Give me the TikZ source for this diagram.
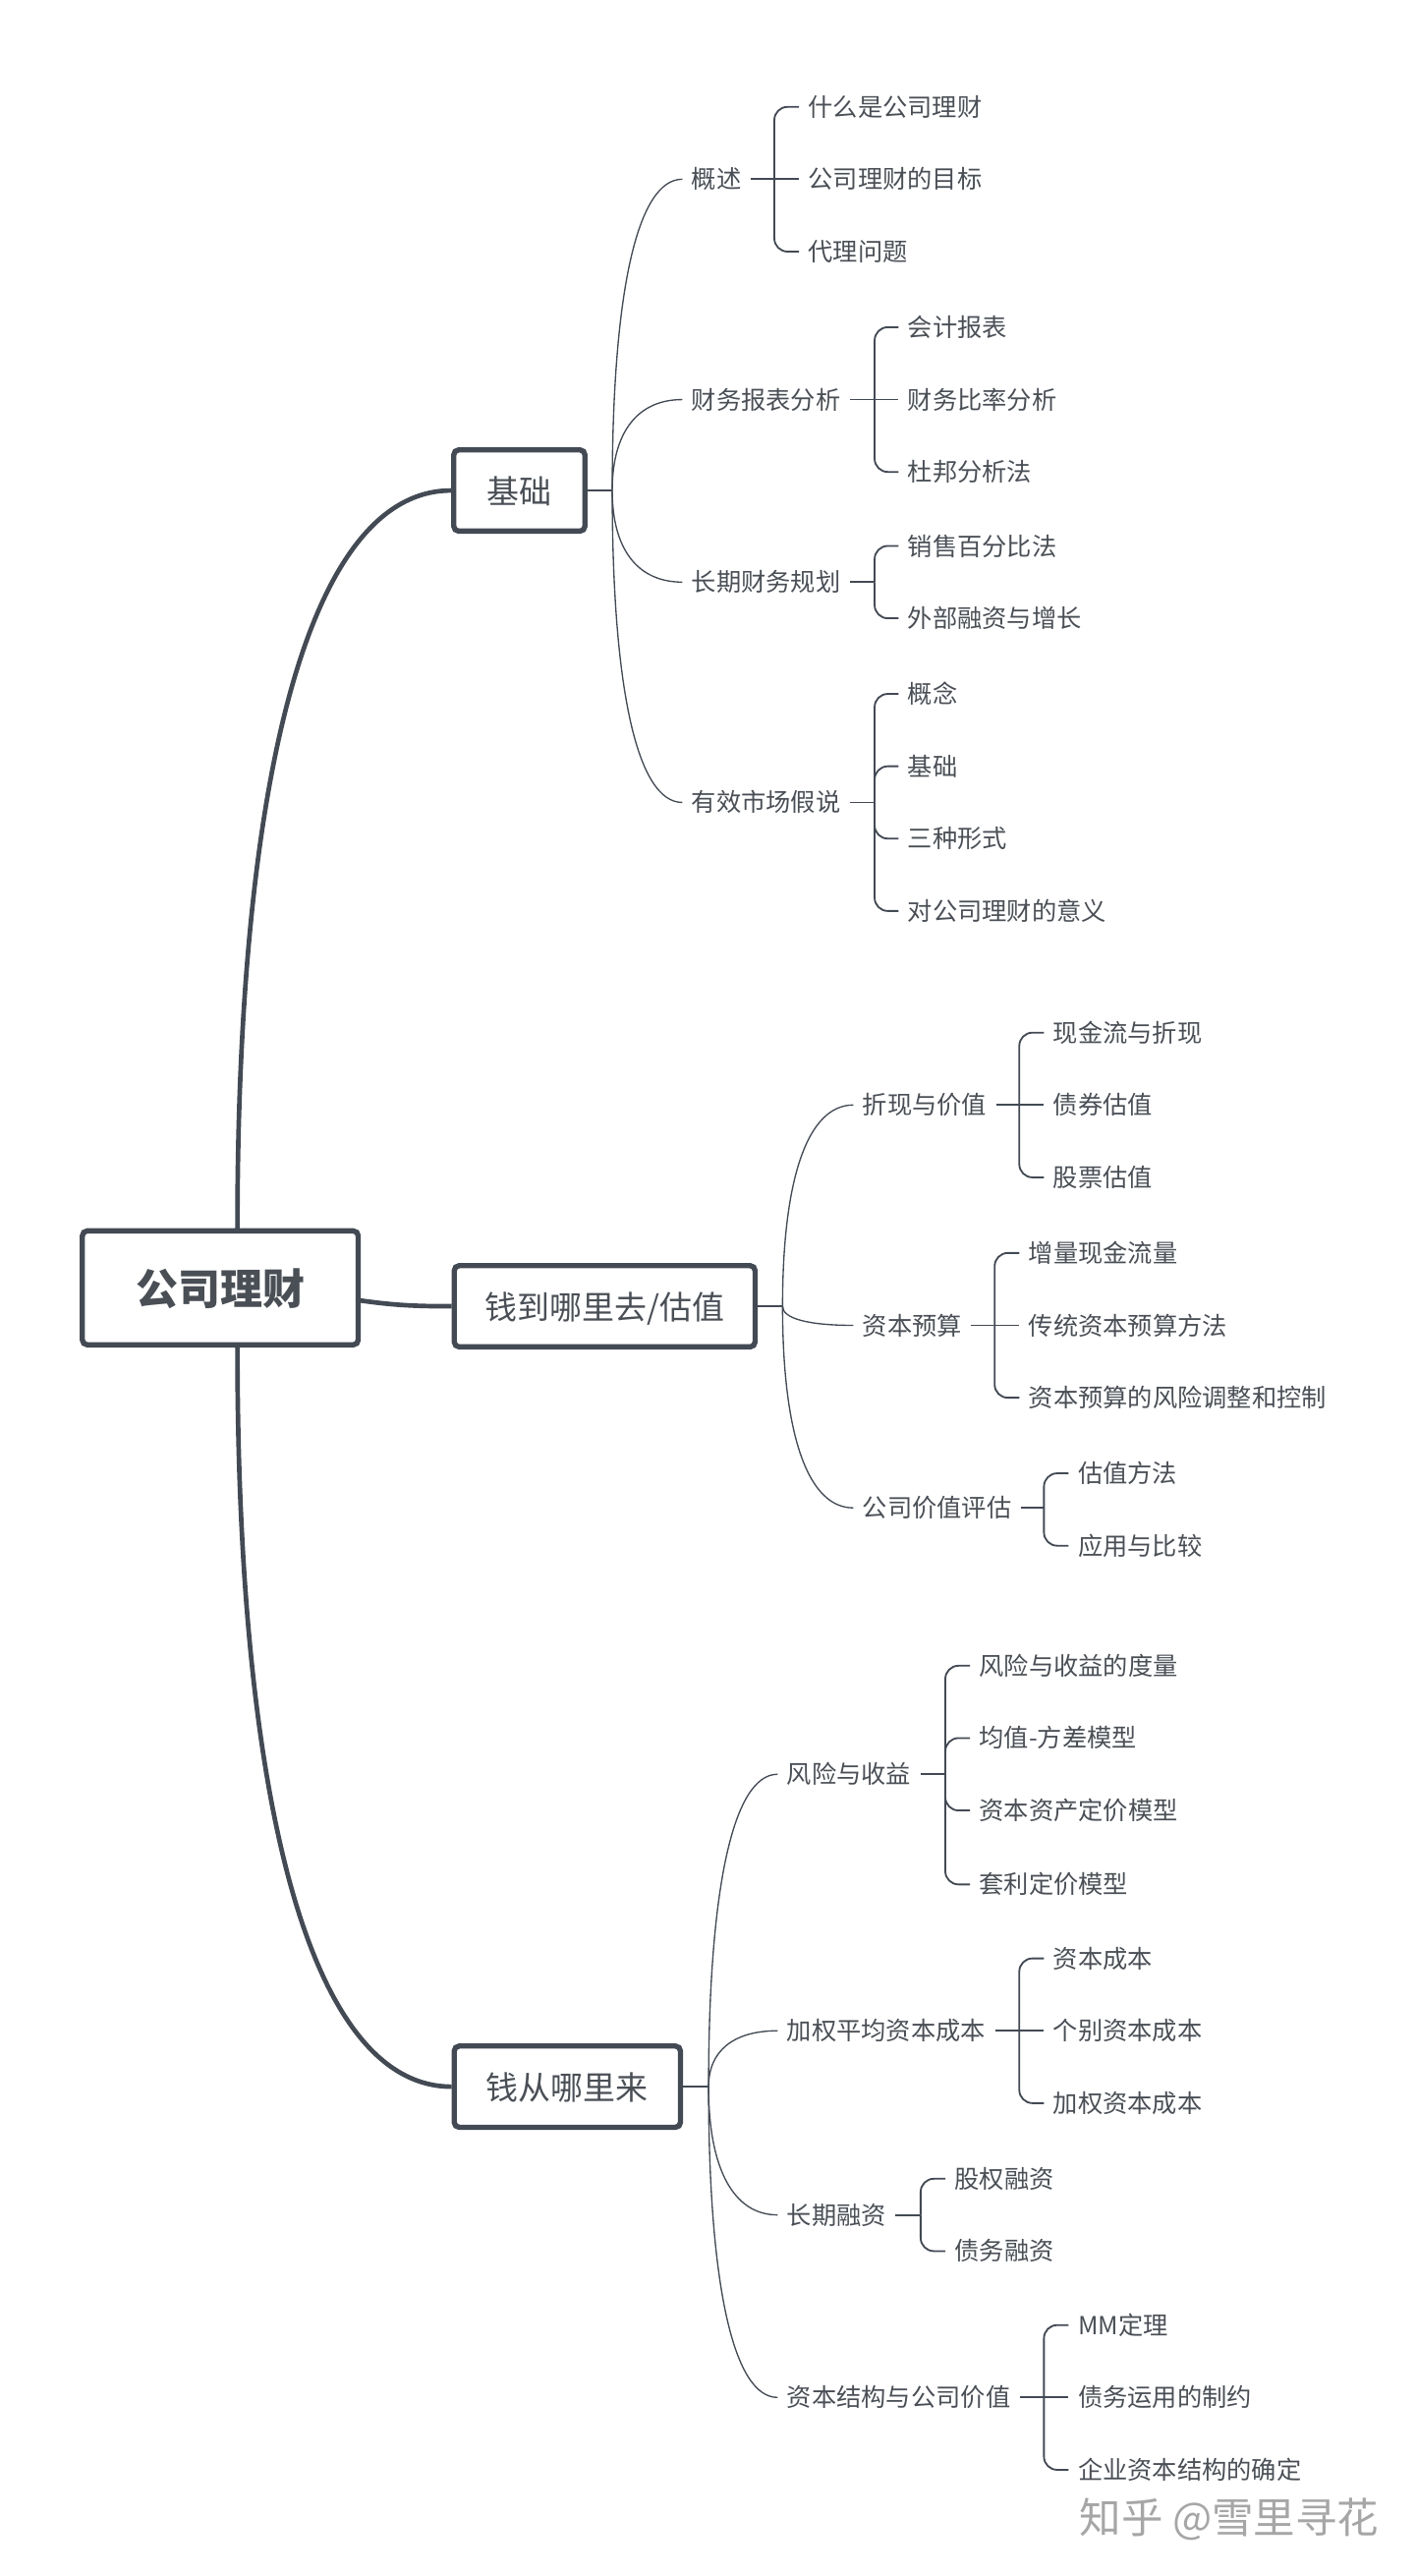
\documentclass[tikz,border=0pt]{standalone}
\usepackage{fontspec}
\usetikzlibrary{calc}
\setmainfont{Noto Sans CJK SC}
\definecolor{linegray}{HTML}{434A54}
\definecolor{textgray}{HTML}{4A4F56}
\tikzset{
	rootbox/.style={draw=linegray, line width=3.2pt, rounded corners=3pt, text=textgray, font=\fontsize{25.7pt}{30pt}\selectfont\bfseries, minimum width=167.8pt, minimum height=69.3pt, inner sep=0pt, text height=24.5pt, text depth=3.5pt},
	mainbox/.style={draw=linegray, line width=3.2pt, rounded corners=3pt, text=textgray, font=\fontsize{19.7pt}{24pt}\selectfont, minimum height=49.4pt, inner sep=0pt, text height=19pt, text depth=3pt},
	topic/.style={anchor=west, text=textgray, font=\fontsize{15.1pt}{18pt}\selectfont, inner xsep=5.5pt, inner ysep=0pt, text height=14pt, text depth=2.6pt},
	trunk/.style={draw=linegray, line width=2.8pt},
	twig/.style={draw=linegray, line width=0.8pt},
	bar/.style={draw=linegray, line width=1.1pt},
	curve/.style={to path={.. controls ($(\tikztostart)!.64!(\tikztostart|-\tikztotarget)$) and ($(\tikztotarget.west)!.64!(\tikztostart|-\tikztotarget)$) .. (\tikztotarget.west)}},
	elbow/.style={rounded corners=8pt, to path={|- (\tikztotarget)}}
}
\begin{document}
\begin{tikzpicture}[x=1pt,y=-1pt]
	\useasboundingbox (0,0) rectangle (861,1566.6);

	\node[rootbox] (root) at (134,783.2) {公司理财};
	\node[mainbox, minimum width=79.8pt] (a) at (315.9,298.3) {基础};
	\node[mainbox, minimum width=183pt] (b) at (367.8,794.4) {钱到哪里去/估值};
	\node[mainbox, minimum width=137.6pt] (c) at (345.1,1269) {钱从哪里来};

	\coordinate (rt) at (144.4,748);
	\coordinate (rb) at (144.4,818.5);
	\coordinate (re) at (218.5,790.8);
	\coordinate (ja) at (372.4,298.3);
	\coordinate (jb) at (476,794.4);
	\coordinate (jc) at (431,1269);

	% first branch
	\node[topic] (a1) at (415,109) {概述};
	\node[topic] (a2) at (415,243) {财务报表分析};
	\node[topic] (a3) at (415,354) {长期财务规划};
	\node[topic] (a4) at (415,488) {有效市场假说};
	\coordinate (ba1) at (471,109);
	\coordinate (ba2) at (532,243);
	\coordinate (ba3) at (532,354);
	\coordinate (ba4) at (532,488);

	\node[topic] (a11) at (486,65) {什么是公司理财};
	\node[topic] (a12) at (486,109) {公司理财的目标};
	\node[topic] (a13) at (486,153) {代理问题};
	\node[topic] (a21) at (546.5,199) {会计报表};
	\node[topic] (a22) at (546.5,243) {财务比率分析};
	\node[topic] (a23) at (546.5,287) {杜邦分析法};
	\node[topic] (a31) at (546.5,332) {销售百分比法};
	\node[topic] (a32) at (546.5,376) {外部融资与增长};
	\node[topic] (a41) at (546.5,422) {概念};
	\node[topic] (a42) at (546.5,466) {基础};
	\node[topic] (a43) at (546.5,510) {三种形式};
	\node[topic] (a44) at (546.5,554) {对公司理财的意义};

	% second branch
	\node[topic] (b1) at (519,672) {折现与价值};
	\node[topic] (b2) at (519,806) {资本预算};
	\node[topic] (b3) at (519,917) {公司价值评估};
	\coordinate (bb1) at (620,672);
	\coordinate (bb2) at (605,806);
	\coordinate (bb3) at (635,917);

	\node[topic] (b11) at (635,628) {现金流与折现};
	\node[topic] (b12) at (635,672) {债券估值};
	\node[topic] (b13) at (635,716) {股票估值};
	\node[topic] (b21) at (620,762) {增量现金流量};
	\node[topic] (b22) at (620,806) {传统资本预算方法};
	\node[topic] (b23) at (620,850) {资本预算的风险调整和控制};
	\node[topic] (b31) at (650,896) {估值方法};
	\node[topic] (b32) at (650,940) {应用与比较};

	% third branch
	\node[topic] (c1) at (473,1079) {风险与收益};
	\node[topic] (c2) at (473,1235) {加权平均资本成本};
	\node[topic] (c3) at (473,1347) {长期融资};
	\node[topic] (c4) at (473,1458) {资本结构与公司价值};
	\coordinate (bc1) at (575,1079);
	\coordinate (bc2) at (620,1235);
	\coordinate (bc3) at (560,1347);
	\coordinate (bc4) at (635,1458);

	\node[topic] (c11) at (590,1013) {风险与收益的度量};
	\node[topic] (c12) at (590,1057) {均值-方差模型};
	\node[topic] (c13) at (590,1101) {资本资产定价模型};
	\node[topic] (c14) at (590,1146) {套利定价模型};
	\node[topic] (c21) at (635,1191) {资本成本};
	\node[topic] (c22) at (635,1235) {个别资本成本};
	\node[topic] (c23) at (635,1279) {加权资本成本};
	\node[topic] (c31) at (575,1325) {股权融资};
	\node[topic] (c32) at (575,1369) {债务融资};
	\node[topic] (c41) at (650,1414) {MM定理};
	\node[topic] (c42) at (650,1458) {债务运用的制约};
	\node[topic] (c43) at (650,1502) {企业资本结构的确定};

	\node[anchor=east, text=gray!70, font=\fontsize{25.4pt}{30pt}\selectfont, inner sep=0pt] (mark) at (839,1532) {知乎 @雪里寻花};

	\path [trunk] (rt) edge [curve] (a);
	\path [trunk] (rb) edge [curve] (c);
	\path [trunk] (re) edge [out=-8,in=180] (b);

	\path [twig] (a) edge (ja);
	\path [twig] (b) edge (jb);
	\path [twig] (c) edge (jc);

	\path [twig] (ja) edge [curve] (a1);
	\path [twig] (ja) edge [curve] (a2);
	\path [twig] (ja) edge [curve] (a3);
	\path [twig] (ja) edge [curve] (a4);
	\path [twig] (jb) edge [curve] (b1);
	\path [twig] (jb) edge [curve] (b2);
	\path [twig] (jb) edge [curve] (b3);
	\path [twig] (jc) edge [curve] (c1);
	\path [twig] (jc) edge [curve] (c2);
	\path [twig] (jc) edge [curve] (c3);
	\path [twig] (jc) edge [curve] (c4);

	\path [bar] (a1) edge (ba1);
	\path [bar] (a2) edge (ba2);
	\path [bar] (a3) edge (ba3);
	\path [bar] (a4) edge (ba4);
	\path [bar] (b1) edge (bb1);
	\path [bar] (b2) edge (bb2);
	\path [bar] (b3) edge (bb3);
	\path [bar] (c1) edge (bc1);
	\path [bar] (c2) edge (bc2);
	\path [bar] (c3) edge (bc3);
	\path [bar] (c4) edge (bc4);

	\path [bar] (ba1) edge [elbow] (a11);
	\path [bar] (ba1) edge (a12);
	\path [bar] (ba1) edge [elbow] (a13);
	\path [bar] (ba2) edge [elbow] (a21);
	\path [bar] (ba2) edge (a22);
	\path [bar] (ba2) edge [elbow] (a23);
	\path [bar] (ba3) edge [elbow] (a31);
	\path [bar] (ba3) edge [elbow] (a32);
	\path [bar] (ba4) edge [elbow] (a41);
	\path [bar] (ba4) edge [elbow] (a42);
	\path [bar] (ba4) edge [elbow] (a43);
	\path [bar] (ba4) edge [elbow] (a44);

	\path [bar] (bb1) edge [elbow] (b11);
	\path [bar] (bb1) edge (b12);
	\path [bar] (bb1) edge [elbow] (b13);
	\path [bar] (bb2) edge [elbow] (b21);
	\path [bar] (bb2) edge (b22);
	\path [bar] (bb2) edge [elbow] (b23);
	\path [bar] (bb3) edge [elbow] (b31);
	\path [bar] (bb3) edge [elbow] (b32);

	\path [bar] (bc1) edge [elbow] (c11);
	\path [bar] (bc1) edge [elbow] (c12);
	\path [bar] (bc1) edge [elbow] (c13);
	\path [bar] (bc1) edge [elbow] (c14);
	\path [bar] (bc2) edge [elbow] (c21);
	\path [bar] (bc2) edge (c22);
	\path [bar] (bc2) edge [elbow] (c23);
	\path [bar] (bc3) edge [elbow] (c31);
	\path [bar] (bc3) edge [elbow] (c32);
	\path [bar] (bc4) edge [elbow] (c41);
	\path [bar] (bc4) edge (c42);
	\path [bar] (bc4) edge [elbow] (c43);
\end{tikzpicture}
\end{document}
